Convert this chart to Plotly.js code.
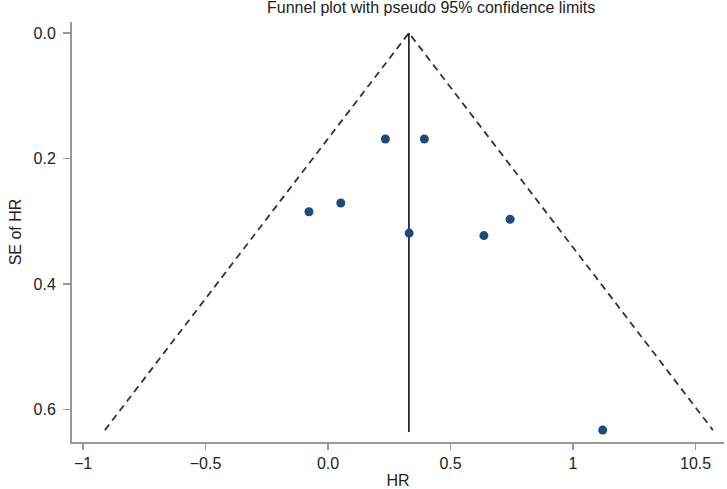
<!DOCTYPE html>
<html>
<head>
<meta charset="utf-8">
<script src="https://cdn.plot.ly/plotly-3.0.1.min.js"></script>
<style>html,body{margin:0;padding:0;background:#fff;}#chart{width:727px;height:489px;}</style>
</head>
<body>
<div id="chart"></div>
<script>
// Study estimates (HR on the plotted scale) and their standard errors
const studyHR = [0.234, 0.393, -0.078, 0.052, 0.331, 0.636, 0.743, 1.121];
const studySE = [0.169, 0.169, 0.285, 0.271, 0.319, 0.323, 0.297, 0.633];
// Pooled estimate and funnel extent
const pooledHR = 0.33;
const funnelSEmax = 0.633;
const z95 = 1.96;
// Tick labels
const xTickVals = [-1, -0.5, 0, 0.5, 1, 1.5];
const xTickText = ['\u22121', '\u22120.5', '0.0', '0.5', '1', '10.5'];
const yTickVals = [0, 0.2, 0.4, 0.6];
const yTickText = ['0.0', '0.2', '0.4', '0.6'];

const funnelX = [pooledHR - z95 * funnelSEmax, pooledHR, pooledHR + z95 * funnelSEmax];
const funnelY = [funnelSEmax, 0, funnelSEmax];

const font = 'Liberation Sans, Arial, sans-serif';
const traces = [
  {x: funnelX, y: funnelY, type: 'scatter', mode: 'lines',
   line: {color: '#333', width: 1.8, dash: '7px,5px'}, hoverinfo: 'skip', showlegend: false},
  {x: [pooledHR, pooledHR], y: [0, 0.636], type: 'scatter', mode: 'lines',
   line: {color: '#111', width: 1.6}, hoverinfo: 'skip', showlegend: false},
  {x: studyHR, y: studySE, type: 'scatter', mode: 'markers',
   marker: {color: '#1d4b7c', size: 9}, showlegend: false}
];
const layout = {
  width: 727, height: 489,
  margin: {l: 72, r: 3, t: 22, b: 47},
  paper_bgcolor: '#fff', plot_bgcolor: '#fff',
  font: {family: font, size: 14, color: '#222'},
  title: {text: 'Funnel plot with pseudo 95% confidence limits', font: {family: font, size: 16, color: '#222'},
          xref: 'container', x: 0.593, xanchor: 'center', yref: 'container', y: 0.984, yanchor: 'middle'},
  xaxis: {range: [-1.045, 1.616], showgrid: false, zeroline: false, showline: true,
          linecolor: '#999', linewidth: 2, ticks: 'outside', ticklen: 6, tickwidth: 1.5, tickcolor: '#999',
          tickvals: xTickVals, ticktext: xTickText, tickfont: {size: 16},
          title: {text: 'HR', font: {size: 16}, standoff: 4}, automargin: false},
  yaxis: {range: [0.652, -0.0175], showgrid: false, zeroline: false, showline: true,
          linecolor: '#999', linewidth: 2, ticks: 'outside', ticklen: 7, tickwidth: 1.5, tickcolor: '#999',
          tickvals: yTickVals, ticktext: yTickText, tickfont: {size: 16}, ticklabelstandoff: 4,
          title: {text: 'SE of HR', font: {size: 16}, standoff: 8}, automargin: false}
};
Plotly.newPlot('chart', traces, layout, {displayModeBar: false, staticPlot: true});
</script>
</body>
</html>
